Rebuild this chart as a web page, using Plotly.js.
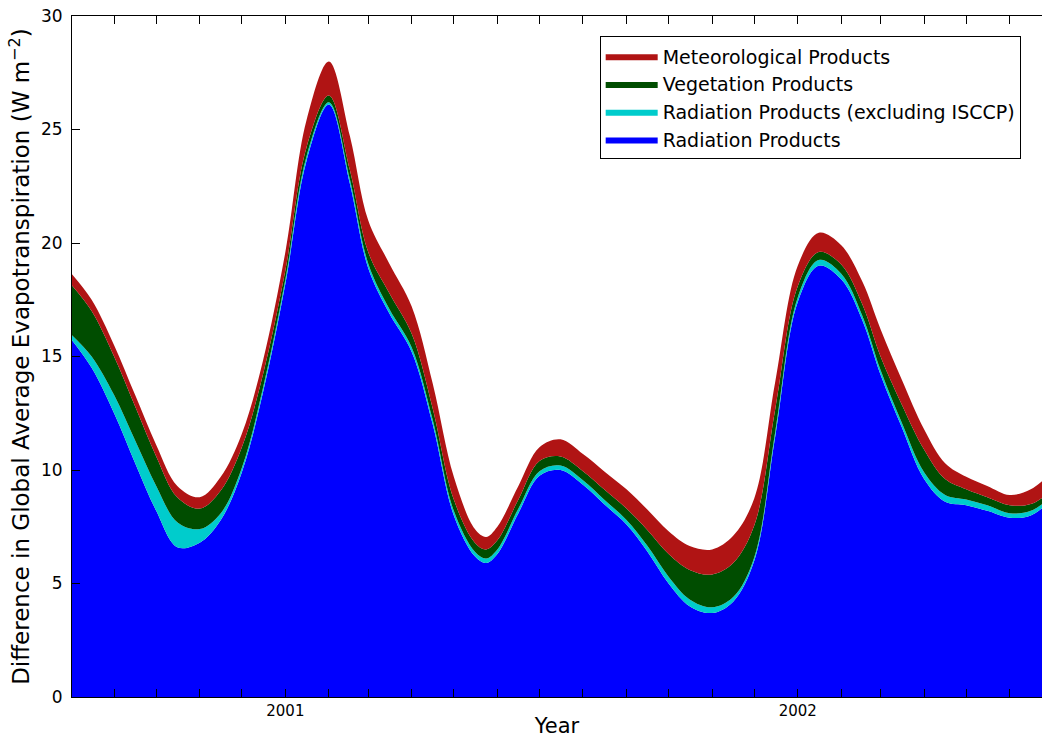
<!DOCTYPE html>
<html>
<head>
<meta charset="utf-8">
<script src="https://cdn.plot.ly/plotly-3.0.1.min.js"></script>
<style>
  html, body { margin: 0; padding: 0; background: #ffffff; }
  #chart { width: 1042px; height: 738px; }
</style>
</head>
<body>
<div id="chart"></div>
<script>
// Sample dates (roughly semi-monthly)
const dates = ['2000-08-01','2000-08-16','2000-09-01','2000-09-16','2000-10-01','2000-10-16','2000-11-01','2000-11-16','2000-12-01','2000-12-16',
  '2001-01-01','2001-01-16','2001-02-01','2001-02-16','2001-03-01','2001-03-16','2001-04-01','2001-04-16','2001-05-01','2001-05-16','2001-05-24',
  '2001-06-01','2001-06-16','2001-07-01','2001-07-16','2001-08-01','2001-08-16','2001-09-01','2001-09-16','2001-10-01','2001-10-16',
  '2001-11-01','2001-11-16','2001-12-01','2001-12-16','2002-01-01','2002-01-16','2002-02-01','2002-02-16','2002-03-01','2002-03-16',
  '2002-04-01','2002-04-16','2002-05-01','2002-05-16','2002-06-01','2002-06-16','2002-07-01'];

// Stacked layer contributions (W m^-2)
const radiation = [15.8,14.5,12.5,10.3,8.2,6.6,6.8,7.8,9.9,13.4,
  18.2,23.6,26.1,22.6,18.9,16.9,15.2,12.0,8.0,6.2,5.9,
  6.3,8.1,9.75,10.0,9.35,8.5,7.6,6.4,5.0,4.0,
  3.7,4.2,6.0,11.5,17.4,19.0,18.4,16.6,14.2,11.9,
  9.6,8.6,8.45,8.2,7.9,8.0,8.7];
const radiationExISCCP = [0.2,0.5,0.8,1.0,1.1,1.1,0.6,0.3,0.2,0.2,
  0.2,0.2,0.1,0.2,0.2,0.2,0.2,0.2,0.2,0.2,0.2,
  0.2,0.2,0.2,0.2,0.2,0.2,0.2,0.25,0.3,0.3,
  0.25,0.2,0.15,0.2,0.2,0.25,0.25,0.2,0.2,0.2,
  0.3,0.3,0.25,0.25,0.2,0.2,0.15];
const vegetation = [2.2,2.0,1.7,1.5,1.3,1.1,0.9,1.0,0.9,0.6,
  0.4,0.4,0.3,0.4,0.5,0.7,0.6,0.5,0.5,0.4,0.4,
  0.4,0.4,0.45,0.4,0.4,0.45,0.5,0.7,1.0,1.3,
  1.45,1.5,1.4,1.0,0.5,0.35,0.4,0.5,0.6,0.8,
  1.0,0.7,0.45,0.35,0.35,0.3,0.25];
const meteorological = [0.5,0.5,0.5,0.5,0.5,0.5,0.5,0.6,0.6,0.6,
  0.8,1.2,1.5,1.5,1.4,1.3,1.2,1.1,1.0,0.6,0.55,
  0.6,0.6,0.6,0.75,0.75,0.8,0.85,0.9,1.0,1.05,
  1.1,1.2,1.2,1.2,0.9,0.85,0.85,1.0,1.2,1.1,
  0.9,0.7,0.55,0.5,0.45,0.65,0.8];

const yearTickVals = ['2001-01-01','2002-01-01'];
const yearTickText = ['2001','2002'];

const names = ['Radiation Products','Radiation Products (excluding ISCCP)','Vegetation Products','Meteorological Products'];
const colors = ['#0000FF','#00CCCC','#004D00','#B01414'];
const series = [radiation, radiationExISCCP, vegetation, meteorological];

const traces = series.map((s, i) => ({
  type: 'scatter',
  mode: 'lines',
  x: dates,
  y: s,
  name: names[i],
  stackgroup: 'one',
  line: {width: 0, shape: 'spline', smoothing: 1.0, color: colors[i]},
  fillcolor: colors[i],
  hoverinfo: 'x+y+name'
}));

const font = 'DejaVu Sans, sans-serif';

const layout = {
  width: 1042,
  height: 738,
  margin: {l: 72, r: 0, t: 16, b: 41},
  paper_bgcolor: '#ffffff',
  plot_bgcolor: '#ffffff',
  font: {family: font, color: '#000000', size: 15},
  showlegend: true,
  legend: {
    x: 0.544, y: 0.970, xanchor: 'left', yanchor: 'top',
    traceorder: 'reversed',
    bgcolor: '#ffffff', bordercolor: '#000000', borderwidth: 1,
    font: {family: font, size: 19, color: '#000000'},
    itemwidth: 52
  },
  xaxis: {
    type: 'date',
    range: ['2000-08-02', '2002-06-24'],
    tickmode: 'array',
    tickvals: yearTickVals,
    ticktext: yearTickText,
    ticks: 'inside',
    ticklen: 8,
    tickwidth: 1,
    tickcolor: '#000000',
    tickfont: {family: font, size: 15},
    minor: {dtick: 'M1', tick0: '2000-01-01', ticks: 'inside', ticklen: 8, tickwidth: 1, tickcolor: '#000000', showgrid: false},
    showline: true, linecolor: '#000000', linewidth: 1, mirror: 'ticks',
    showgrid: false, zeroline: false,
    title: {text: 'Year', font: {family: font, size: 21}, standoff: 5}
  },
  yaxis: {
    range: [0, 30],
    dtick: 5,
    tick0: 0,
    ticks: 'inside',
    ticklen: 8,
    tickwidth: 1,
    tickcolor: '#000000',
    tickfont: {family: font, size: 17},
    ticklabelstandoff: 5,
    showline: true, linecolor: '#000000', linewidth: 1, mirror: false,
    showgrid: false, zeroline: false,
    title: {text: 'Difference in Global Average Evapotranspiration (W m<sup>\u22122</sup>)', font: {family: font, size: 23}, standoff: 4}
  }
};

Plotly.newPlot('chart', traces, layout, {displayModeBar: false, staticPlot: true});
</script>
</body>
</html>
